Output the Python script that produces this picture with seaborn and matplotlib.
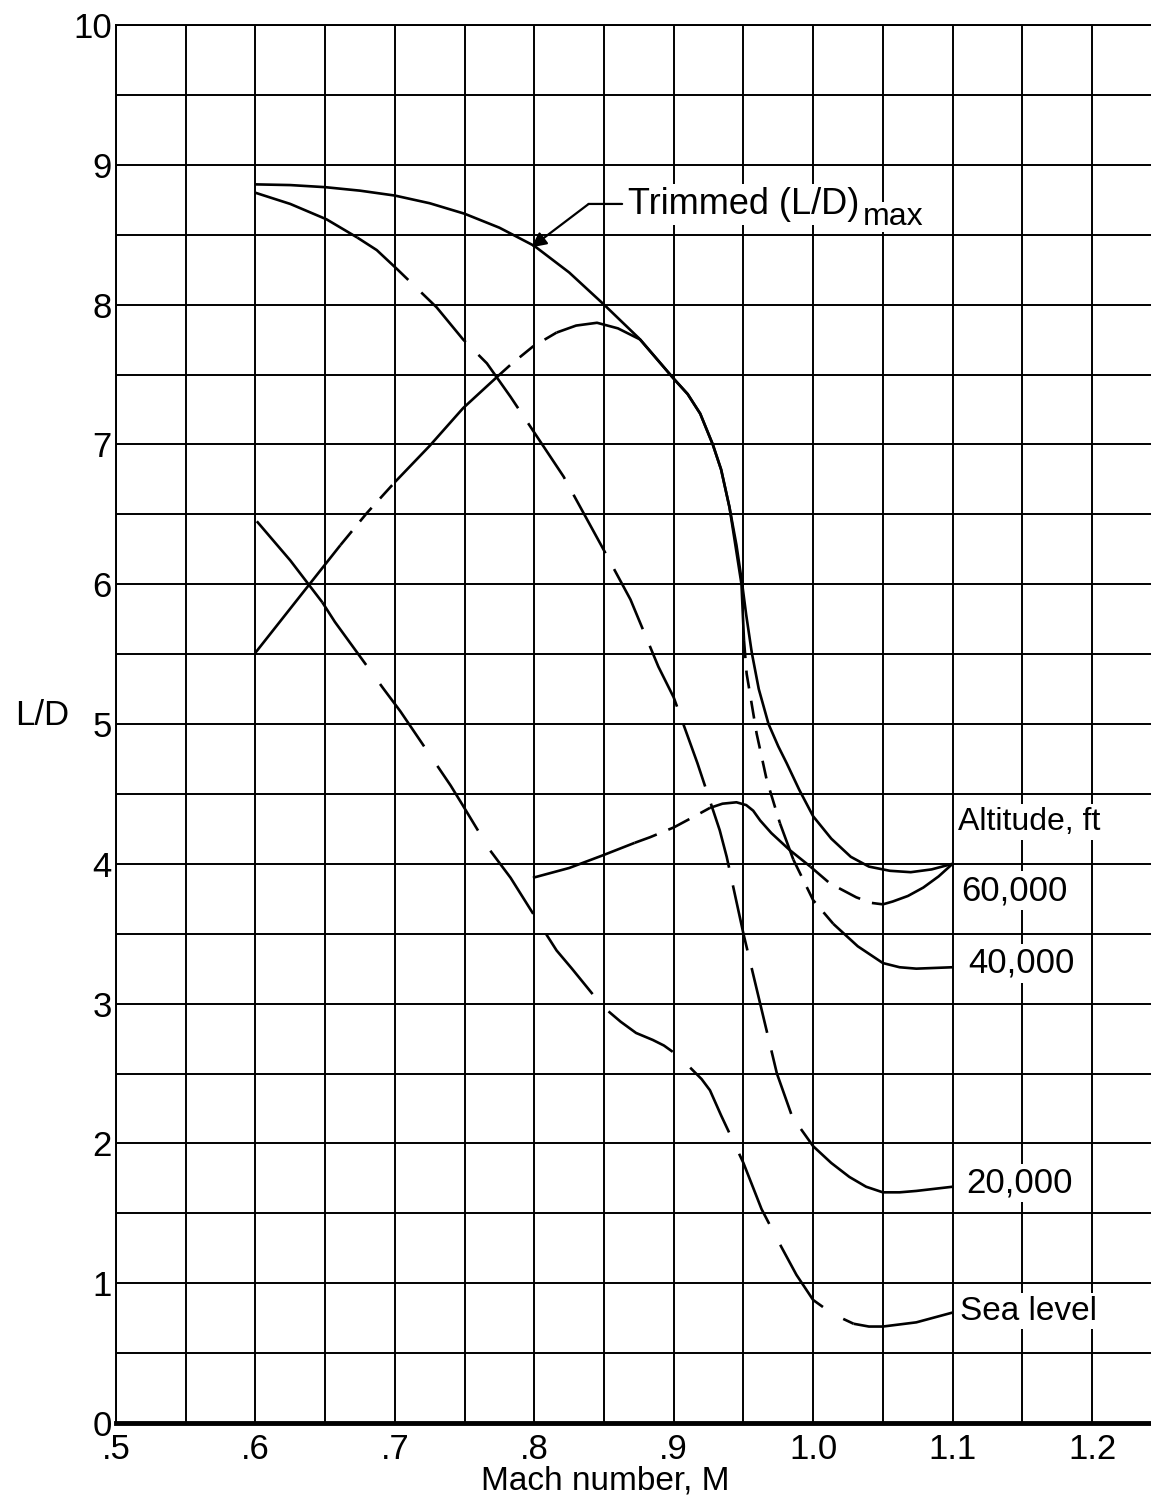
import numpy as np
import pandas as pd
import matplotlib
matplotlib.use("Agg")
import matplotlib.pyplot as plt
from matplotlib.ticker import FixedLocator
import seaborn as sns

# ---------------- data ----------------
trim_x = [0.600, 0.625, 0.650, 0.675, 0.700, 0.725, 0.750, 0.775, 0.800, 0.825, 0.850,
          0.875, 0.900, 0.910, 0.919, 0.928, 0.934, 0.940, 0.945, 0.949, 0.952, 0.956,
          0.961, 0.968, 0.975, 0.981, 0.990, 1.000, 1.013, 1.027, 1.040, 1.055, 1.070,
          1.085, 1.100]
trim_y = [8.86, 8.855, 8.84, 8.815, 8.78, 8.725, 8.65, 8.55, 8.42, 8.23, 8.00,
          7.76, 7.47, 7.36, 7.22, 7.00, 6.82, 6.55, 6.28, 6.01, 5.78, 5.51,
          5.25, 5.00, 4.84, 4.72, 4.53, 4.34, 4.18, 4.05, 3.98, 3.95, 3.94,
          3.96, 4.00]

alt60_x = [0.799, 0.825, 0.849, 0.872, 0.883, 0.900, 0.915, 0.926, 0.935, 0.945, 0.952,
           0.957, 0.962, 0.970, 0.983, 0.998, 1.012, 1.031, 1.042, 1.050, 1.057, 1.068,
           1.079, 1.090, 1.100]
alt60_y = [3.90, 3.97, 4.06, 4.15, 4.19, 4.26, 4.34, 4.40, 4.43, 4.44, 4.42,
           4.38, 4.31, 4.22, 4.10, 3.98, 3.86, 3.76, 3.72, 3.71, 3.73, 3.77,
           3.83, 3.91, 4.00]

alt40_x = [0.600, 0.638, 0.661, 0.680, 0.700, 0.725, 0.749, 0.773, 0.783, 0.799, 0.816,
           0.830, 0.845, 0.860, 0.876, 0.900, 0.910, 0.919, 0.928, 0.934, 0.940, 0.9486,
           0.9504, 0.9523, 0.9595, 0.9667, 0.9762, 0.9858, 1.000, 1.0145, 1.032, 1.050,
           1.062, 1.074, 1.100]
alt40_y = [5.51, 5.99, 6.28, 6.51, 6.73, 6.99, 7.26, 7.48, 7.57, 7.70, 7.80,
           7.85, 7.87, 7.83, 7.75, 7.47, 7.36, 7.22, 7.00, 6.82, 6.55, 6.00,
           5.60, 5.36, 4.93, 4.60, 4.29, 4.03, 3.74, 3.57, 3.41, 3.29,
           3.26, 3.25, 3.26]

alt20_x = [0.600, 0.625, 0.651, 0.673, 0.687, 0.702, 0.730, 0.749, 0.766, 0.783, 0.799,
           0.821, 0.849, 0.869, 0.889, 0.900, 0.917, 0.933, 0.938, 0.950, 0.962, 0.974,
           0.985, 1.000, 1.013, 1.026, 1.038, 1.050, 1.062, 1.074, 1.100]
alt20_y = [8.80, 8.72, 8.61, 8.48, 8.39, 8.25, 7.98, 7.75, 7.58, 7.34, 7.10,
           6.77, 6.26, 5.89, 5.41, 5.19, 4.72, 4.24, 4.05, 3.50, 3.00, 2.50,
           2.19, 1.98, 1.86, 1.76, 1.69, 1.65, 1.65, 1.66, 1.69]

sea_x = [0.601, 0.625, 0.648, 0.657, 0.692, 0.704, 0.740, 0.748, 0.768, 0.783, 0.800,
         0.816, 0.827, 0.849, 0.862, 0.873, 0.885, 0.893, 0.900, 0.907, 0.914, 0.920,
         0.926, 0.934, 0.950, 0.963, 0.975, 0.988, 1.000, 1.014, 1.029, 1.040, 1.050,
         1.074, 1.100]
sea_y = [6.45, 6.17, 5.87, 5.73, 5.25, 5.09, 4.56, 4.43, 4.10, 3.90, 3.63,
         3.38, 3.25, 2.98, 2.87, 2.79, 2.74, 2.70, 2.65, 2.59, 2.52, 2.46,
         2.38, 2.20, 1.86, 1.53, 1.30, 1.06, 0.88, 0.78, 0.71, 0.69, 0.69,
         0.72, 0.79]

x_tick_values = [0.5, 0.6, 0.7, 0.8, 0.9, 1.0, 1.1, 1.2]
x_tick_labels = [".5", ".6", ".7", ".8", ".9", "1.0", "1.1", "1.2"]
y_tick_values = list(range(0, 11))
y_tick_labels = [str(v) for v in y_tick_values]

curve_labels = ["60,000", "40,000", "20,000", "Sea level"]

# ---------------- styles (which x-ranges are drawn dashed) ----------------
trim_dashed = []
alt60_dashed = [(0.872, 0.926), (0.998, 1.050)]
alt40_dashed = [(0.661, 0.700), (0.773, 0.816), (0.9504, 0.9762), (0.9858, 1.0145)]
alt20_dashed = [(0.673, 1.000)]
sea_dashed = [(0.648, 1.029)]

# ---------------- figure ----------------
sns.set_theme(style="white")
plt.rcParams["font.family"] = ["Liberation Sans", "DejaVu Sans"]
plt.rcParams["lines.scale_dashes"] = False

W, H = 1151, 1498
fig = plt.figure(figsize=(W / 100, H / 100), dpi=100)
fig.patch.set_facecolor("white")
left_px, top_px, bottom_px = 116, 25, 1423
ax = fig.add_axes([left_px / W, (H - bottom_px) / H, 1 - left_px / W, (bottom_px - top_px) / H])
ax.set_facecolor("white")

px_per_x = (1092 - 116) / 0.7
ax.set_xlim(0.5, 0.5 + (W - left_px) / px_per_x)
ax.set_ylim(0, 10)

# grid
ax.xaxis.set_major_locator(FixedLocator(x_tick_values))
ax.xaxis.set_minor_locator(FixedLocator([v + 0.05 for v in x_tick_values]))
ax.yaxis.set_major_locator(FixedLocator(y_tick_values))
ax.yaxis.set_minor_locator(FixedLocator([v + 0.5 for v in y_tick_values[:-1]]))
ax.set_xticklabels(x_tick_labels)
ax.set_yticklabels(y_tick_labels)
ax.grid(which="both", color="black", lw=1.4, zorder=1)
ax.set_axisbelow(True)
ax.tick_params(which="both", length=0, colors="black")
ax.tick_params(axis="x", labelsize=25, pad=7)
ax.tick_params(axis="y", labelsize=25, pad=3)

for s in ["left", "top"]:
    ax.spines[s].set_color("black")
    ax.spines[s].set_linewidth(1.4)
ax.spines["bottom"].set_color("black")
ax.spines["bottom"].set_linewidth(3.5)
ax.spines["right"].set_visible(False)


def draw(xs, ys, dashed, dash):
    xs = np.asarray(xs, float)
    ys = np.asarray(ys, float)
    mids = (xs[:-1] + xs[1:]) / 2
    isd = [any(a <= m <= b for a, b in dashed) for m in mids]
    nseg = len(mids)
    start = 0
    pieces = []
    for i in range(1, nseg):
        if isd[i] != isd[start]:
            pieces.append((start, i, isd[start]))
            start = i
    pieces.append((start, nseg, isd[start]))
    for a, b, d in pieces:
        df = pd.DataFrame({"M": xs[a:b + 1], "LD": ys[a:b + 1]})
        sns.lineplot(data=df, x="M", y="LD", ax=ax, color="black", lw=1.9,
                     sort=False, estimator=None, zorder=3)
        line = ax.lines[-1]
        line.set_solid_capstyle("butt")
        line.set_dash_capstyle("butt")
        line.set_solid_joinstyle("round")
        line.set_dash_joinstyle("round")
        if d:
            line.set_dashes(dash)


draw(trim_x, trim_y, trim_dashed, (1, 0))
draw(alt60_x, alt60_y, alt60_dashed, (17, 9))
draw(alt40_x, alt40_y, alt40_dashed, (13, 9))
draw(alt20_x, alt20_y, alt20_dashed, (48, 13))
draw(sea_x, sea_y, sea_dashed, (55, 17))

ax.set_xlabel("")
ax.set_ylabel("")

# axis labels
fig.text(605 / W, 1 - 1481 / H, "Mach number, M", fontsize=24, ha="center", va="center", color="black")
fig.text(42 / W, 1 - 716 / H, "L/D", fontsize=25, ha="center", va="center", color="black")

# annotations
box = dict(facecolor="white", edgecolor="none", pad=2)
ax.annotate("", xy=(0.798, 8.41), xytext=(0.839, 8.72),
            arrowprops=dict(arrowstyle="-|>", color="black", lw=1.6, mutation_scale=22,
                            shrinkA=0, shrinkB=0), zorder=4)
ax.annotate("", xy=(0.863, 8.72), xytext=(0.839, 8.72),
            arrowprops=dict(arrowstyle="-", color="black", lw=1.6, shrinkA=0, shrinkB=0), zorder=4)
t_main = ax.text(0.867, 8.65, "Trimmed (L/D)", fontsize=26, ha="left",
                 va="baseline", bbox=box, zorder=5, color="black")
ax.annotate("max", xy=(1, 0), xycoords=t_main, xytext=(3, -2.5), textcoords="offset points",
            fontsize=23, ha="left", va="baseline", color="black", zorder=5,
            bbox=dict(facecolor="white", edgecolor="none", pad=0))

ax.text(1.1039, 4.24, "Altitude, ft", fontsize=23, ha="left", va="baseline", bbox=box, zorder=5, color="black")
label_pos = [(1.1065, 3.74), (1.111, 3.22), (1.110, 1.65), (1.105, 0.74)]
for lab, (lx, ly) in zip(curve_labels, label_pos):
    ax.text(lx, ly, lab, fontsize=25 if lab != "Sea level" else 24, ha="left", va="baseline",
            bbox=box, zorder=5, color="black")

fig.savefig("out.png", dpi=100, facecolor="white")
